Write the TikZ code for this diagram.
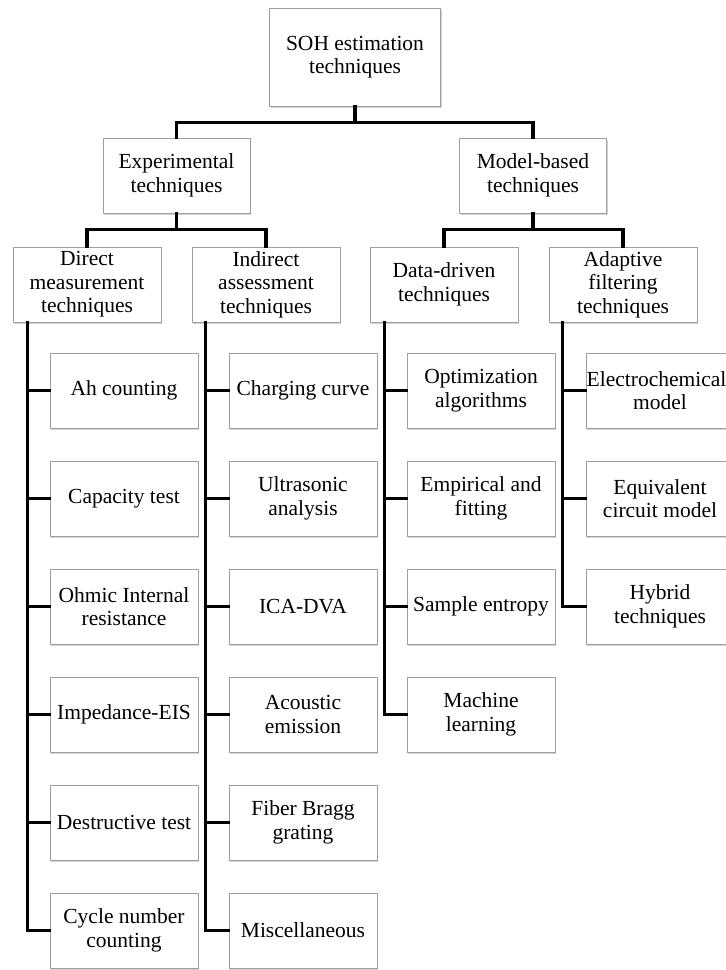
\documentclass[tikz,border=0pt]{standalone}
\usepackage{fontspec}
\setmainfont{Liberation Serif}
\usetikzlibrary{shadows}
\begin{document}
\begin{tikzpicture}[x=1pt,y=-1pt,
  box/.style={draw=gray!75, line width=1pt, fill=white, align=center,
    inner sep=2pt, font=\fontsize{21.5}{23.5}\selectfont,
    drop shadow={shadow xshift=1.2pt, shadow yshift=-1.6pt, opacity=0.35, fill=gray}},
  head/.style={box, minimum width=147pt, minimum height=75pt},
  leaf/.style={box, minimum width=148pt, minimum height=75pt},
  link/.style={line width=3.6pt, line cap=rect, line join=miter}]
\useasboundingbox (0,0) rectangle (726,970);

% root and first level
\node[box, minimum width=171pt, minimum height=98pt] (root) at (355,57) {SOH estimation\\techniques};
\node[head] (exp) at (176.5,175.5) {Experimental\\techniques};
\node[head] (mod) at (533,175.5) {Model-based\\techniques};

% second level
\node[head, minimum width=148pt] (dir) at (87,284.5) {Direct\\measurement\\techniques};
\node[head, minimum width=148pt] (ind) at (266,284.5) {Indirect\\assessment\\techniques};
\node[head, minimum width=148pt] (dat) at (444,284.5) {Data-driven\\techniques};
\node[head, minimum width=148pt] (ada) at (623,284.5) {Adaptive\\filtering\\techniques};

% direct measurement leaves
\node[leaf] (d1) at (124,390.5) {Ah counting};
\node[leaf] (d2) at (124,498.5) {Capacity test};
\node[leaf] (d3) at (124,606.5) {Ohmic Internal\\resistance};
\node[leaf] (d4) at (124,714.5) {Impedance-EIS};
\node[leaf] (d5) at (124,822.5) {Destructive test};
\node[leaf] (d6) at (124,930.5) {Cycle number\\counting};

% indirect assessment leaves
\node[leaf] (i1) at (303,390.5) {Charging curve};
\node[leaf] (i2) at (303,498.5) {Ultrasonic\\analysis};
\node[leaf] (i3) at (303,606.5) {ICA-DVA};
\node[leaf] (i4) at (303,714.5) {Acoustic\\emission};
\node[leaf] (i5) at (303,822.5) {Fiber Bragg\\grating};
\node[leaf] (i6) at (303,930.5) {Miscellaneous};

% data-driven leaves
\node[leaf] (t1) at (481,390.5) {Optimization\\algorithms};
\node[leaf] (t2) at (481,498.5) {Empirical and\\fitting};
\node[leaf] (t3) at (481,606.5) {Sample entropy};
\node[leaf] (t4) at (481,714.5) {Machine\\learning};

% adaptive filtering leaves (first label sits a little left of centre)
\node[leaf] (a1) at (660,390.5) {\hspace*{-7pt}Electrochemical\\model};
\node[leaf] (a2) at (660,498.5) {Equivalent\\circuit model};
\node[leaf] (a3) at (660,606.5) {Hybrid\\techniques};

% tree connectors
\draw[link] (root.south) -- ++(0,16) -| (exp.north);
\draw[link] (root.south) -- ++(0,16) -| (mod.north);
\draw[link] (exp.south) -- ++(0,16) -| (dir.north);
\draw[link] (exp.south) -- ++(0,16) -| (ind.north);
\draw[link] (mod.south) -- ++(0,16) -| (dat.north);
\draw[link] (mod.south) -- ++(0,16) -| (ada.north);

% spines
\coordinate (sd) at ([xshift=15pt]dir.south west);
\coordinate (si) at ([xshift=14pt]ind.south west);
\coordinate (st) at ([xshift=15pt]dat.south west);
\coordinate (sa) at ([xshift=14pt]ada.south west);

\draw[link] (sd) |- (d6.west);
\foreach \n in {d1,d2,d3,d4,d5} \draw[link] (sd |- \n.west) -- (\n.west);
\draw[link] (si) |- (i6.west);
\foreach \n in {i1,i2,i3,i4,i5} \draw[link] (si |- \n.west) -- (\n.west);
\draw[link] (st) |- (t4.west);
\foreach \n in {t1,t2,t3} \draw[link] (st |- \n.west) -- (\n.west);
\draw[link] (sa) |- (a3.west);
\foreach \n in {a1,a2} \draw[link] (sa |- \n.west) -- (\n.west);
\end{tikzpicture}
\end{document}
